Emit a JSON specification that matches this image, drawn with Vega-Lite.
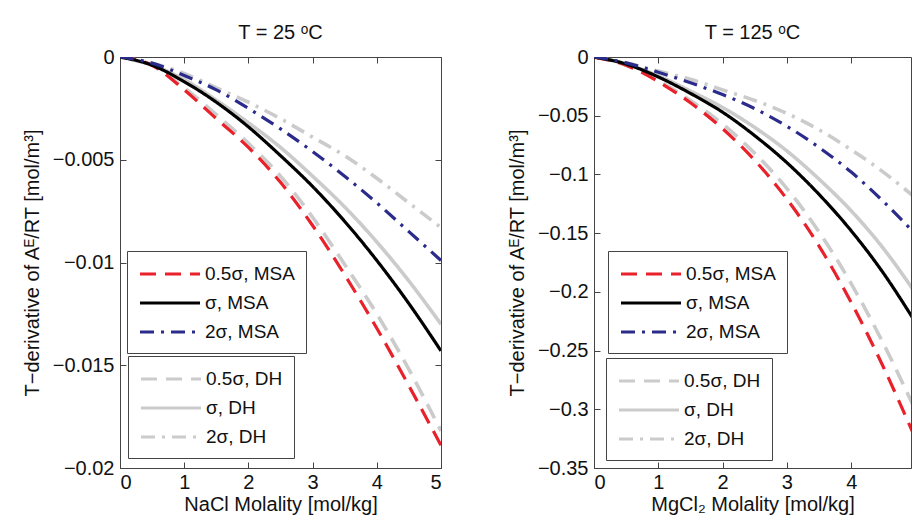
{
  "$schema": "https://vega.github.io/schema/vega-lite/v6.json",
  "background": "white",
  "padding": {"left": 21, "top": 22, "right": 0, "bottom": 0},
  "config": {
    "font": "Liberation Sans",
    "view": {"stroke": "#444", "strokeWidth": 1},
    "title": {"fontSize": 20, "fontWeight": "normal", "font": "Liberation Sans", "color": "#111", "offset": 4},
    "axis": {"labelFont": "Liberation Sans", "labelFontSize": 20, "titleFont": "Liberation Sans", "titleFontSize": 20, "titleFontWeight": "normal", "tickSize": -6, "domainColor": "#444", "tickColor": "#444", "labelColor": "#111", "titleColor": "#111", "grid": false, "labelPadding": 12},
    "axisX": {"labelPadding": 10, "titlePadding": 2},
    "axisY": {"titlePadding": 10},
    "legend": {"labelFont": "Liberation Sans", "labelFontSize": 19, "labelColor": "#111", "symbolSize": 400, "symbolStrokeWidth": 3.2, "strokeColor": "#444", "fillColor": "white", "padding": 11, "rowPadding": 7, "labelOffset": 43}
  },
  "datasets": {
    "d": [
      {"p":"L","g":"MSA","c":"0.5σ, MSA","m":0,"v":0},{"p":"L","g":"MSA","c":"0.5σ, MSA","m":0.5,"v":-0.0004},{"p":"L","g":"MSA","c":"0.5σ, MSA","m":1,"v":-0.0016},{"p":"L","g":"MSA","c":"0.5σ, MSA","m":1.5,"v":-0.0030},{"p":"L","g":"MSA","c":"0.5σ, MSA","m":2,"v":-0.0044},{"p":"L","g":"MSA","c":"0.5σ, MSA","m":2.5,"v":-0.0061},{"p":"L","g":"MSA","c":"0.5σ, MSA","m":3,"v":-0.0082},{"p":"L","g":"MSA","c":"0.5σ, MSA","m":3.5,"v":-0.0106},{"p":"L","g":"MSA","c":"0.5σ, MSA","m":4,"v":-0.0132},{"p":"L","g":"MSA","c":"0.5σ, MSA","m":4.5,"v":-0.0160},{"p":"L","g":"MSA","c":"0.5σ, MSA","m":5,"v":-0.0189},
      {"p":"L","g":"MSA","c":"σ, MSA","m":0,"v":0},{"p":"L","g":"MSA","c":"σ, MSA","m":0.5,"v":-0.0004},{"p":"L","g":"MSA","c":"σ, MSA","m":1,"v":-0.0012},{"p":"L","g":"MSA","c":"σ, MSA","m":1.5,"v":-0.0022},{"p":"L","g":"MSA","c":"σ, MSA","m":2,"v":-0.0034},{"p":"L","g":"MSA","c":"σ, MSA","m":2.5,"v":-0.0048},{"p":"L","g":"MSA","c":"σ, MSA","m":3,"v":-0.0063},{"p":"L","g":"MSA","c":"σ, MSA","m":3.5,"v":-0.0080},{"p":"L","g":"MSA","c":"σ, MSA","m":4,"v":-0.0099},{"p":"L","g":"MSA","c":"σ, MSA","m":4.5,"v":-0.0120},{"p":"L","g":"MSA","c":"σ, MSA","m":5,"v":-0.0143},
      {"p":"L","g":"MSA","c":"2σ, MSA","m":0,"v":0},{"p":"L","g":"MSA","c":"2σ, MSA","m":0.5,"v":-0.0003},{"p":"L","g":"MSA","c":"2σ, MSA","m":1,"v":-0.0009},{"p":"L","g":"MSA","c":"2σ, MSA","m":1.5,"v":-0.0016},{"p":"L","g":"MSA","c":"2σ, MSA","m":2,"v":-0.0025},{"p":"L","g":"MSA","c":"2σ, MSA","m":2.5,"v":-0.0035},{"p":"L","g":"MSA","c":"2σ, MSA","m":3,"v":-0.0046},{"p":"L","g":"MSA","c":"2σ, MSA","m":3.5,"v":-0.0058},{"p":"L","g":"MSA","c":"2σ, MSA","m":4,"v":-0.0071},{"p":"L","g":"MSA","c":"2σ, MSA","m":4.5,"v":-0.0085},{"p":"L","g":"MSA","c":"2σ, MSA","m":5,"v":-0.0099},
      {"p":"L","g":"DH","c":"0.5σ, DH","m":0,"v":0},{"p":"L","g":"DH","c":"0.5σ, DH","m":0.5,"v":-0.0004},{"p":"L","g":"DH","c":"0.5σ, DH","m":1,"v":-0.0015},{"p":"L","g":"DH","c":"0.5σ, DH","m":1.5,"v":-0.0028},{"p":"L","g":"DH","c":"0.5σ, DH","m":2,"v":-0.0042},{"p":"L","g":"DH","c":"0.5σ, DH","m":2.5,"v":-0.0058},{"p":"L","g":"DH","c":"0.5σ, DH","m":3,"v":-0.0078},{"p":"L","g":"DH","c":"0.5σ, DH","m":3.5,"v":-0.0101},{"p":"L","g":"DH","c":"0.5σ, DH","m":4,"v":-0.0125},{"p":"L","g":"DH","c":"0.5σ, DH","m":4.5,"v":-0.0152},{"p":"L","g":"DH","c":"0.5σ, DH","m":5,"v":-0.0182},
      {"p":"L","g":"DH","c":"σ, DH","m":0,"v":0},{"p":"L","g":"DH","c":"σ, DH","m":0.5,"v":-0.0004},{"p":"L","g":"DH","c":"σ, DH","m":1,"v":-0.0011},{"p":"L","g":"DH","c":"σ, DH","m":1.5,"v":-0.0021},{"p":"L","g":"DH","c":"σ, DH","m":2,"v":-0.0032},{"p":"L","g":"DH","c":"σ, DH","m":2.5,"v":-0.0044},{"p":"L","g":"DH","c":"σ, DH","m":3,"v":-0.0058},{"p":"L","g":"DH","c":"σ, DH","m":3.5,"v":-0.0073},{"p":"L","g":"DH","c":"σ, DH","m":4,"v":-0.0090},{"p":"L","g":"DH","c":"σ, DH","m":4.5,"v":-0.0109},{"p":"L","g":"DH","c":"σ, DH","m":5,"v":-0.0130},
      {"p":"L","g":"DH","c":"2σ, DH","m":0,"v":0},{"p":"L","g":"DH","c":"2σ, DH","m":0.5,"v":-0.0003},{"p":"L","g":"DH","c":"2σ, DH","m":1,"v":-0.0008},{"p":"L","g":"DH","c":"2σ, DH","m":1.5,"v":-0.0015},{"p":"L","g":"DH","c":"2σ, DH","m":2,"v":-0.0022},{"p":"L","g":"DH","c":"2σ, DH","m":2.5,"v":-0.0030},{"p":"L","g":"DH","c":"2σ, DH","m":3,"v":-0.0039},{"p":"L","g":"DH","c":"2σ, DH","m":3.5,"v":-0.0048},{"p":"L","g":"DH","c":"2σ, DH","m":4,"v":-0.0059},{"p":"L","g":"DH","c":"2σ, DH","m":4.5,"v":-0.0071},{"p":"L","g":"DH","c":"2σ, DH","m":5,"v":-0.0083},
      {"p":"R","g":"MSA","c":"0.5σ, MSA","m":0,"v":0},{"p":"R","g":"MSA","c":"0.5σ, MSA","m":0.5,"v":-0.007},{"p":"R","g":"MSA","c":"0.5σ, MSA","m":1,"v":-0.021},{"p":"R","g":"MSA","c":"0.5σ, MSA","m":1.5,"v":-0.039},{"p":"R","g":"MSA","c":"0.5σ, MSA","m":2,"v":-0.061},{"p":"R","g":"MSA","c":"0.5σ, MSA","m":2.5,"v":-0.088},{"p":"R","g":"MSA","c":"0.5σ, MSA","m":3,"v":-0.121},{"p":"R","g":"MSA","c":"0.5σ, MSA","m":3.5,"v":-0.161},{"p":"R","g":"MSA","c":"0.5σ, MSA","m":4,"v":-0.209},{"p":"R","g":"MSA","c":"0.5σ, MSA","m":4.5,"v":-0.264},{"p":"R","g":"MSA","c":"0.5σ, MSA","m":5,"v":-0.325},
      {"p":"R","g":"MSA","c":"σ, MSA","m":0,"v":0},{"p":"R","g":"MSA","c":"σ, MSA","m":0.5,"v":-0.006},{"p":"R","g":"MSA","c":"σ, MSA","m":1,"v":-0.017},{"p":"R","g":"MSA","c":"σ, MSA","m":1.5,"v":-0.031},{"p":"R","g":"MSA","c":"σ, MSA","m":2,"v":-0.047},{"p":"R","g":"MSA","c":"σ, MSA","m":2.5,"v":-0.067},{"p":"R","g":"MSA","c":"σ, MSA","m":3,"v":-0.090},{"p":"R","g":"MSA","c":"σ, MSA","m":3.5,"v":-0.117},{"p":"R","g":"MSA","c":"σ, MSA","m":4,"v":-0.148},{"p":"R","g":"MSA","c":"σ, MSA","m":4.5,"v":-0.184},{"p":"R","g":"MSA","c":"σ, MSA","m":5,"v":-0.226},
      {"p":"R","g":"MSA","c":"2σ, MSA","m":0,"v":0},{"p":"R","g":"MSA","c":"2σ, MSA","m":0.5,"v":-0.005},{"p":"R","g":"MSA","c":"2σ, MSA","m":1,"v":-0.013},{"p":"R","g":"MSA","c":"2σ, MSA","m":1.5,"v":-0.022},{"p":"R","g":"MSA","c":"2σ, MSA","m":2,"v":-0.032},{"p":"R","g":"MSA","c":"2σ, MSA","m":2.5,"v":-0.044},{"p":"R","g":"MSA","c":"2σ, MSA","m":3,"v":-0.059},{"p":"R","g":"MSA","c":"2σ, MSA","m":3.5,"v":-0.077},{"p":"R","g":"MSA","c":"2σ, MSA","m":4,"v":-0.098},{"p":"R","g":"MSA","c":"2σ, MSA","m":4.5,"v":-0.123},{"p":"R","g":"MSA","c":"2σ, MSA","m":5,"v":-0.151},
      {"p":"R","g":"DH","c":"0.5σ, DH","m":0,"v":0},{"p":"R","g":"DH","c":"0.5σ, DH","m":0.5,"v":-0.007},{"p":"R","g":"DH","c":"0.5σ, DH","m":1,"v":-0.020},{"p":"R","g":"DH","c":"0.5σ, DH","m":1.5,"v":-0.037},{"p":"R","g":"DH","c":"0.5σ, DH","m":2,"v":-0.057},{"p":"R","g":"DH","c":"0.5σ, DH","m":2.5,"v":-0.082},{"p":"R","g":"DH","c":"0.5σ, DH","m":3,"v":-0.112},{"p":"R","g":"DH","c":"0.5σ, DH","m":3.5,"v":-0.149},{"p":"R","g":"DH","c":"0.5σ, DH","m":4,"v":-0.193},{"p":"R","g":"DH","c":"0.5σ, DH","m":4.5,"v":-0.244},{"p":"R","g":"DH","c":"0.5σ, DH","m":5,"v":-0.301},
      {"p":"R","g":"DH","c":"σ, DH","m":0,"v":0},{"p":"R","g":"DH","c":"σ, DH","m":0.5,"v":-0.006},{"p":"R","g":"DH","c":"σ, DH","m":1,"v":-0.016},{"p":"R","g":"DH","c":"σ, DH","m":1.5,"v":-0.029},{"p":"R","g":"DH","c":"σ, DH","m":2,"v":-0.043},{"p":"R","g":"DH","c":"σ, DH","m":2.5,"v":-0.060},{"p":"R","g":"DH","c":"σ, DH","m":3,"v":-0.080},{"p":"R","g":"DH","c":"σ, DH","m":3.5,"v":-0.104},{"p":"R","g":"DH","c":"σ, DH","m":4,"v":-0.131},{"p":"R","g":"DH","c":"σ, DH","m":4.5,"v":-0.163},{"p":"R","g":"DH","c":"σ, DH","m":5,"v":-0.201},
      {"p":"R","g":"DH","c":"2σ, DH","m":0,"v":0},{"p":"R","g":"DH","c":"2σ, DH","m":0.5,"v":-0.005},{"p":"R","g":"DH","c":"2σ, DH","m":1,"v":-0.012},{"p":"R","g":"DH","c":"2σ, DH","m":1.5,"v":-0.019},{"p":"R","g":"DH","c":"2σ, DH","m":2,"v":-0.028},{"p":"R","g":"DH","c":"2σ, DH","m":2.5,"v":-0.037},{"p":"R","g":"DH","c":"2σ, DH","m":3,"v":-0.048},{"p":"R","g":"DH","c":"2σ, DH","m":3.5,"v":-0.062},{"p":"R","g":"DH","c":"2σ, DH","m":4,"v":-0.079},{"p":"R","g":"DH","c":"2σ, DH","m":4.5,"v":-0.098},{"p":"R","g":"DH","c":"2σ, DH","m":5,"v":-0.120}
    ]
  },
  "spacing": 64,
  "hconcat": [
    {
      "width": 321, "height": 411,
      "title": "T = 25 ᵒC",
      "data": {"name": "d"},
      "transform": [{"filter": "datum.p == 'L'"}],
      "layer": [
        {
          "transform": [{"filter": "datum.g == 'DH'"}],
          "mark": {"type": "line", "strokeWidth": 3.6, "interpolate": "monotone", "clip": true},
          "encoding": {
            "x": {"field": "m", "type": "quantitative", "scale": {"domain": [0, 5], "nice": false, "zero": false}, "axis": {"orient": "bottom", "values": [0, 1, 2, 3, 4, 5], "title": "NaCl Molality [mol/kg]"}},
            "y": {"field": "v", "type": "quantitative", "scale": {"domain": [-0.02, 0], "nice": false, "zero": false}, "axis": {"orient": "left", "values": [0, -0.005, -0.01, -0.015, -0.02], "format": "~g", "title": "T−derivative of Aᴱ/RT [mol/m³]"}},
            "color": {"field": "c", "type": "nominal", "scale": {"domain": ["0.5σ, DH", "σ, DH", "2σ, DH"], "range": ["#cbcbcb", "#cbcbcb", "#cbcbcb"]}, "legend": {"orient": "none", "legendX": 8, "legendY": 299, "title": null, "symbolType": "M-1,0H5"}},
            "strokeDash": {"field": "c", "type": "nominal", "scale": {"domain": ["0.5σ, DH", "σ, DH", "2σ, DH"], "range": [[16, 9], [1, 0], [14, 7, 3, 7]]}, "legend": {"orient": "none", "legendX": 8, "legendY": 299, "title": null, "symbolType": "M-1,0H5"}}
          }
        },
        {
          "transform": [{"filter": "datum.g == 'MSA'"}],
          "mark": {"type": "line", "strokeWidth": 3.2, "interpolate": "monotone", "clip": true},
          "encoding": {
            "x": {"field": "m", "type": "quantitative", "scale": {"domain": [0, 5], "nice": false, "zero": false}, "axis": {"orient": "top", "values": [0, 1, 2, 3, 4, 5], "labels": false, "title": null, "domain": false}},
            "y": {"field": "v", "type": "quantitative", "scale": {"domain": [-0.02, 0], "nice": false, "zero": false}, "axis": {"orient": "right", "values": [0, -0.005, -0.01, -0.015, -0.02], "labels": false, "title": null, "domain": false}},
            "color": {"field": "c", "type": "nominal", "scale": {"domain": ["0.5σ, MSA", "σ, MSA", "2σ, MSA"], "range": ["#e8212b", "#000000", "#2b2b8c"]}, "legend": {"orient": "none", "legendX": 7, "legendY": 194, "title": null, "symbolType": "M-1,0H5"}},
            "strokeDash": {"field": "c", "type": "nominal", "scale": {"domain": ["0.5σ, MSA", "σ, MSA", "2σ, MSA"], "range": [[16, 9], [1, 0], [14, 7, 3, 7]]}, "legend": {"orient": "none", "legendX": 7, "legendY": 194, "title": null, "symbolType": "M-1,0H5"}}
          }
        }
      ],
      "resolve": {"scale": {"color": "independent", "strokeDash": "independent"}}
    },
    {
      "width": 317, "height": 411,
      "title": "T = 125 ᵒC",
      "data": {"name": "d"},
      "transform": [{"filter": "datum.p == 'R'"}],
      "layer": [
        {
          "transform": [{"filter": "datum.g == 'DH'"}],
          "mark": {"type": "line", "strokeWidth": 3.6, "interpolate": "monotone", "clip": true},
          "encoding": {
            "x": {"field": "m", "type": "quantitative", "scale": {"domain": [0, 4.93], "nice": false, "zero": false}, "axis": {"orient": "bottom", "values": [0, 1, 2, 3, 4], "title": "MgCl₂ Molality [mol/kg]"}},
            "y": {"field": "v", "type": "quantitative", "scale": {"domain": [-0.35, 0], "nice": false, "zero": false}, "axis": {"orient": "left", "values": [0, -0.05, -0.1, -0.15, -0.2, -0.25, -0.3, -0.35], "format": "~g", "title": "T−derivative of Aᴱ/RT [mol/m³]"}},
            "color": {"field": "c", "type": "nominal", "scale": {"domain": ["0.5σ, DH", "σ, DH", "2σ, DH"], "range": ["#cbcbcb", "#cbcbcb", "#cbcbcb"]}, "legend": {"orient": "none", "legendX": 12, "legendY": 301, "title": null, "symbolType": "M-1,0H5"}},
            "strokeDash": {"field": "c", "type": "nominal", "scale": {"domain": ["0.5σ, DH", "σ, DH", "2σ, DH"], "range": [[16, 9], [1, 0], [14, 7, 3, 7]]}, "legend": {"orient": "none", "legendX": 12, "legendY": 301, "title": null, "symbolType": "M-1,0H5"}}
          }
        },
        {
          "transform": [{"filter": "datum.g == 'MSA'"}],
          "mark": {"type": "line", "strokeWidth": 3.2, "interpolate": "monotone", "clip": true},
          "encoding": {
            "x": {"field": "m", "type": "quantitative", "scale": {"domain": [0, 4.93], "nice": false, "zero": false}, "axis": {"orient": "top", "values": [0, 1, 2, 3, 4], "labels": false, "title": null, "domain": false}},
            "y": {"field": "v", "type": "quantitative", "scale": {"domain": [-0.35, 0], "nice": false, "zero": false}, "axis": {"orient": "right", "values": [0, -0.05, -0.1, -0.15, -0.2, -0.25, -0.3, -0.35], "labels": false, "title": null, "domain": false, "ticks": false}},
            "color": {"field": "c", "type": "nominal", "scale": {"domain": ["0.5σ, MSA", "σ, MSA", "2σ, MSA"], "range": ["#e8212b", "#000000", "#2b2b8c"]}, "legend": {"orient": "none", "legendX": 14, "legendY": 194, "title": null, "symbolType": "M-1,0H5"}},
            "strokeDash": {"field": "c", "type": "nominal", "scale": {"domain": ["0.5σ, MSA", "σ, MSA", "2σ, MSA"], "range": [[16, 9], [1, 0], [14, 7, 3, 7]]}, "legend": {"orient": "none", "legendX": 14, "legendY": 194, "title": null, "symbolType": "M-1,0H5"}}
          }
        }
      ],
      "resolve": {"scale": {"color": "independent", "strokeDash": "independent"}}
    }
  ]
}
